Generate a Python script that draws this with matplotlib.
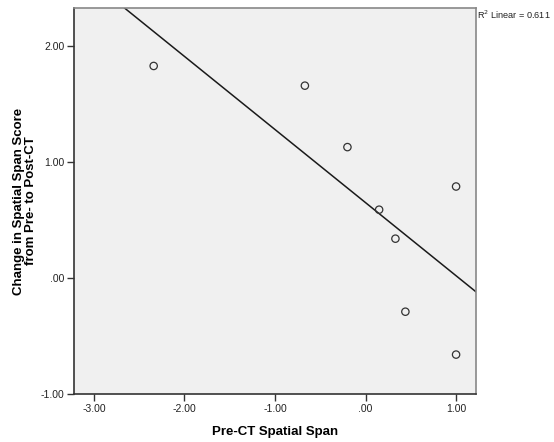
import numpy as np
import matplotlib
matplotlib.use("Agg")
import matplotlib.pyplot as plt

plt.rcParams['font.family'] = ['Liberation Sans', 'DejaVu Sans']

# Data
pre_ct_span = [-2.34, -0.67, -0.20, 1.00, 0.15, 0.33, 0.44, 1.00]
change_span = [1.83, 1.66, 1.13, 0.79, 0.59, 0.34, -0.29, -0.66]

x_ticks = [-3.0, -2.0, -1.0, 0.0, 1.0]
x_tick_labels = ["-3.00", "-2.00", "-1.00", ".00", "1.00"]
y_ticks = [-1.0, 0.0, 1.0, 2.0]
y_tick_labels = ["-1.00", ".00", "1.00", "2.00"]
r2_label = "R$^2$ Linear = 0.611"

x = np.array(pre_ct_span)
y = np.array(change_span)
slope, intercept = np.polyfit(x, y, 1)

fig = plt.figure(figsize=(5.54, 4.42), dpi=100)
ax = fig.add_axes([74/554, 1-394/442, 402/554, 386/442])
ax.set_facecolor('#F0F0F0')

xlim = (-3.22, 1.22)
ylim = (-1.0, 2.33)
ax.set_xlim(*xlim)
ax.set_ylim(*ylim)

xl = np.array(xlim)
ax.plot(xl, intercept + slope * xl, color='#1a1a1a', lw=1.1, zorder=2)
ax.scatter(x, y, s=28, facecolors='none', edgecolors='#333333', linewidths=0.9, zorder=3)

ax.set_xticks(x_ticks)
ax.set_xticklabels(x_tick_labels)
ax.set_yticks(y_ticks)
ax.set_yticklabels(y_tick_labels)
ax.tick_params(axis='both', direction='out', length=5, width=1, colors='#333333',
               labelsize=7.5, labelcolor='#222222', pad=2)

for side in ['left', 'bottom']:
    ax.spines[side].set_color('#333333')
    ax.spines[side].set_linewidth(1.2)
for side in ['top', 'right']:
    ax.spines[side].set_color('#888888')
    ax.spines[side].set_linewidth(1.2)

ax.set_xlabel("Pre-CT Spatial Span", fontsize=9.5, fontweight='bold', labelpad=9)
ax.set_ylabel("Change in Spatial Span Score\nfrom Pre- to Post-CT", fontsize=9.5,
              fontweight='bold', linespacing=0.95, ha='center', va='center')
ax.yaxis.set_label_coords((25 - 74) / 402, 0.5)

fig.text(477/554, 1-15/442, r2_label, fontsize=6.6, color='#222222', ha='left', va='center')

fig.savefig("out.png", dpi=100)
